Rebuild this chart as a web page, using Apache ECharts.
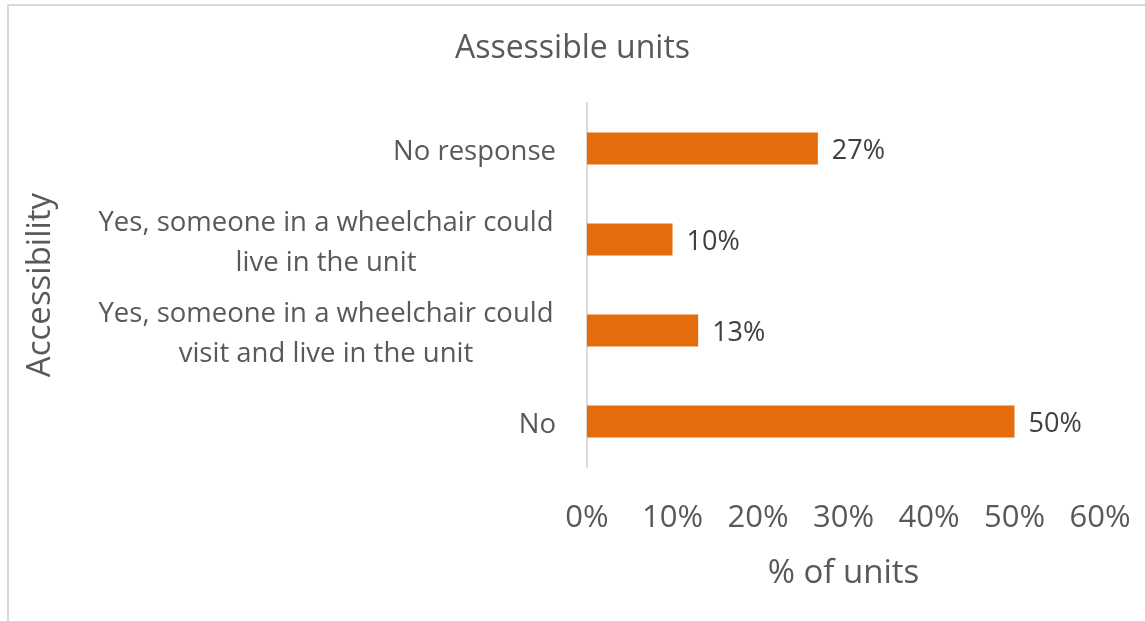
<!DOCTYPE html>
<html lang="en">
<head>
  <meta charset="utf-8">
  <title>Assessible units</title>
  <script src="https://cdn.jsdelivr.net/npm/echarts@6/dist/echarts.min.js"></script>
  <style>
    body { margin: 0; background: #fff; }
    #main { width: 1145px; height: 621px; }
  </style>
</head>
<body>
<div id="main"></div>
<script type="text/javascript">
// data (bottom to top, as the category axis draws them)
var categories = ['No',
  'Yes, someone in a wheelchair could\nvisit and live in the unit',
  'Yes, someone in a wheelchair could\nlive in the unit',
  'No response'];
var values = [50, 13, 10, 27];
var xTicks = [0, 10, 20, 30, 40, 50, 60];

var font = '"Open Sans", "Noto Sans", sans-serif';
var chart = echarts.init(document.getElementById('main'));

// multi-line labels are centred line by line, single ones stay right-aligned
function catLabel(v) {
  var lines = v.split('\n');
  if (lines.length == 1) return v;
  return lines.map(function (l) { return '{c|' + l + '}'; }).join('\n');
}

var option = {
  animation: false,
  textStyle: { fontFamily: font },
  title: {
    text: 'Assessible units',
    left: 'center',
    top: 28,
    textStyle: { fontFamily: font, fontSize: 32, fontWeight: 'normal', color: '#595959' }
  },
  graphic: [{
    type: 'rect',
    shape: { x: 8, y: 5, width: 1160, height: 640 },
    style: { fill: 'none', stroke: '#d9d9d9', lineWidth: 2 }
  }],
  grid: { left: 587, right: 45, top: 103, bottom: 154, containLabel: false },
  xAxis: {
    type: 'value',
    min: xTicks[0],
    max: xTicks[xTicks.length - 1],
    interval: 10,
    name: '% of units',
    nameLocation: 'middle',
    nameGap: 90,
    nameTextStyle: { fontFamily: font, fontSize: 33, color: '#595959' },
    axisLine: { show: false },
    axisTick: { show: false },
    splitLine: { show: false },
    axisLabel: {
      margin: 36,
      fontSize: 31,
      color: '#595959',
      fontFamily: font,
      formatter: '{value}%'
    }
  },
  yAxis: {
    type: 'category',
    data: categories,
    name: 'Accessibility',
    nameLocation: 'middle',
    nameGap: 530,
    nameRotate: 90,
    nameTextStyle: { fontFamily: font, fontSize: 33, color: '#595959' },
    axisLine: { show: true, lineStyle: { color: '#d9d9d9', width: 2 } },
    axisTick: { show: false },
    axisLabel: {
      margin: 31,
      fontSize: 27.5,
      lineHeight: 40,
      padding: [7, 0, 0, 0],
      color: '#595959',
      fontFamily: font,
      formatter: catLabel,
      rich: {
        c: { width: 460, align: 'center', fontSize: 27.5, lineHeight: 40, color: '#595959', fontFamily: font }
      }
    }
  },
  series: [{
    type: 'bar',
    data: values,
    barWidth: 32,
    itemStyle: { color: '#e46c0a' },
    label: {
      show: true,
      position: 'right',
      distance: 14,
      offset: [0, 3],
      formatter: '{c}%',
      fontSize: 27,
      color: '#404040',
      fontFamily: font
    }
  }]
};
chart.setOption(option);
</script>
</body>
</html>
